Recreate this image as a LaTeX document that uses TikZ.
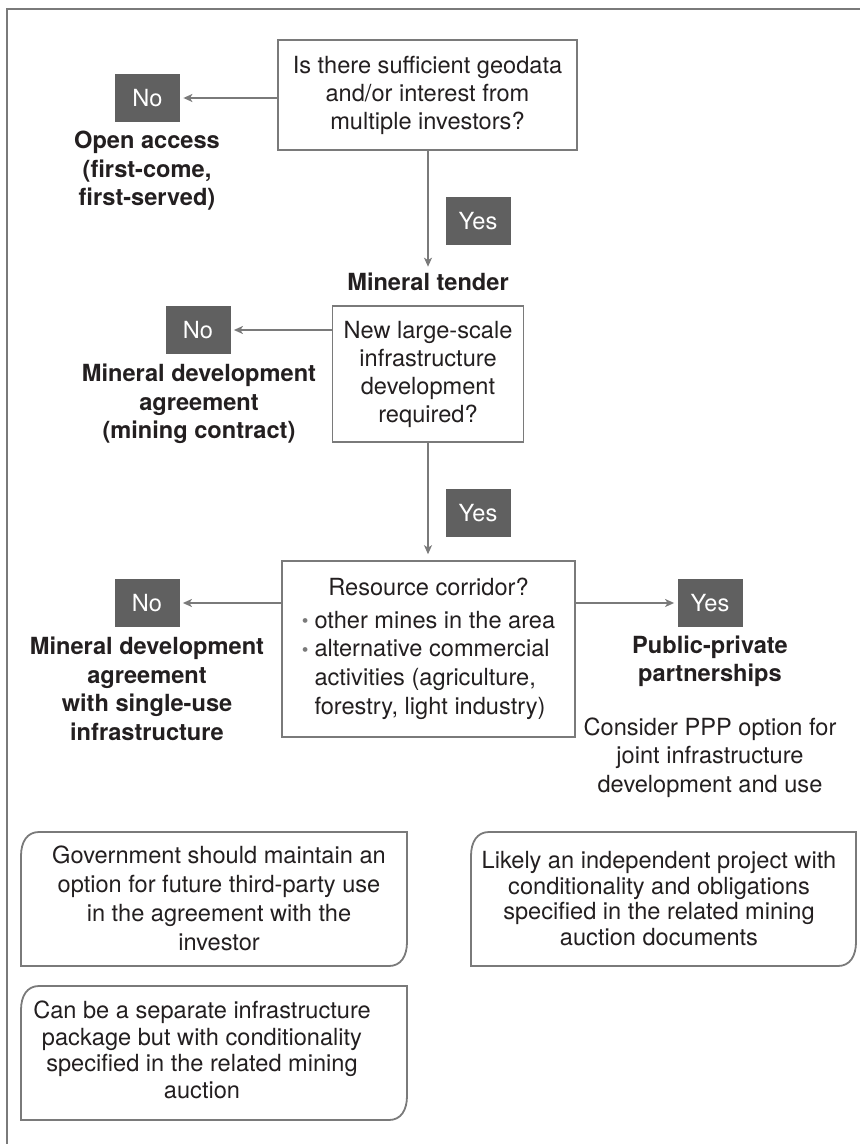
\documentclass[tikz,border=0pt]{standalone}
\usepackage{fontspec}
\setmainfont{TeX Gyre Heros}
\usetikzlibrary{arrows.meta, calc}

\definecolor{linegray}{HTML}{7A7A7A}
\definecolor{tagfill}{HTML}{606060}
\definecolor{inkblack}{HTML}{231F20}

% rounded note frame: top left (#1,#2), bottom right (#3,#4), pixel units
\newcommand{\notebox}[4]{%
  \draw[noteline] (#1,#4) -- (#1,#2+24) .. controls (#1,#2+10) and (#1+6,#2) .. (#1+18,#2) -- (#3,#2)
    -- (#3,#4-24) .. controls (#3,#4-10) and (#3-6,#4) .. (#3-18,#4) -- cycle;}
\newcommand{\dotitem}{{\color{linegray}\fontsize{9.5pt}{9.5pt}\selectfont\raisebox{0.3pt}{\textbullet}}}

\begin{document}
\begin{tikzpicture}[x=0.5pt, y=-0.5pt, inner sep=0pt, text=inkblack,
    font=\fontsize{11.8pt}{14pt}\selectfont,
    qbox/.style={draw=linegray, line width=0.8pt, align=center},
    tag/.style={fill=tagfill, text=white, minimum width=32.5pt, minimum height=24pt},
    outcome/.style={font=\fontsize{11.8pt}{14.25pt}\selectfont\bfseries, align=center},
    arr/.style={draw=linegray, line width=0.75pt, -{Stealth[length=4.5pt, width=4pt, inset=1.2pt]}},
    noteline/.style={draw=linegray, line width=0.9pt}]
  \useasboundingbox (0,0) rectangle (860,1144);
  \draw[linegray, line width=0.8pt] (7,1144) -- (7,9) -- (860,9);

  % first question
  \node[qbox, minimum width=149.5pt, minimum height=55pt] (geo) at (427.5,95)
    {Is there sufficient geodata\\and/or interest from\\multiple investors?};
  \node[tag] (no1) at (147.5,98) {No};
  \node[outcome] (open) at (147,171) {Open access\\(first-come,\\first-served)};
  \node[outcome] (tender) at (428,282) {Mineral tender};
  \node[tag] (yes1) at (478,221) {Yes};
  \draw[arr, shorten >=1.5pt] (geo.west |- no1) -- (no1.east);
  \draw[arr, shorten >=3pt] (geo.south -| tender) -- (tender.north);

  % second question
  \node[qbox, minimum width=95.5pt, minimum height=68pt] (infra) at (428,374)
    {New large-scale\\infrastructure\\development\\required?};
  \node[tag] (no2) at (198,330) {No};
  \node[outcome] (mda) at (199,404) {Mineral development\\agreement\\(mining contract)};
  \node[tag] (yes2) at (478,513) {Yes};
  \draw[arr, shorten >=1.5pt] (infra.west |- no2) -- (no2.east);

  % third question
  \node[qbox, minimum width=146.5pt, minimum height=88pt,
    font=\fontsize{11.8pt}{14.3pt}\selectfont] (corr) at (428.5,649)
    {\begin{tabular}{@{}l@{\hspace{3pt}}l@{}}
      \multicolumn{2}{c}{Resource corridor?}\\[2.2pt]
      \dotitem & other mines in the area\\
      \dotitem & alternative commercial\\
               & activities (agriculture,\\
               & forestry, light industry)
    \end{tabular}};
  \draw[arr, shorten >=3pt] (infra.south) -- (infra.south |- corr.north);
  \node[tag] (no3) at (147,603) {No};
  \node[outcome] (mdb) at (147,689) {Mineral development\\agreement\\with single-use\\infrastructure};
  \node[tag] (yes3) at (710,603) {Yes};
  \node[outcome] (ppp) at (710,661.5) {Public-private\\partnerships};
  \node[align=center, font=\fontsize{11.8pt}{14.25pt}\selectfont] (ppptext) at (710,757.5)
    {Consider PPP option for\\joint infrastructure\\development and use};
  \draw[arr, shorten >=1.5pt] (corr.west |- no3) -- (no3.east);
  \draw[arr, shorten >=1.5pt] (corr.east |- yes3) -- (yes3.west);

  % notes
  \notebox{21}{832}{407}{966}
  \node[align=center, font=\fontsize{11.8pt}{14.5pt}\selectfont] (govt) at (219,898.5)
    {Government should maintain an\\option for future third-party use\\in the agreement with the\\investor};
  \notebox{21}{986}{407}{1120}
  \node[align=center, font=\fontsize{11.8pt}{13.3pt}\selectfont] (pkg) at (202,1050)
    {Can be a separate infrastructure\\package but with conditionality\\specified in the related mining\\auction};
  \notebox{471}{832}{856}{966}
  \node[align=center, font=\fontsize{11.8pt}{12.9pt}\selectfont] (indep) at (659,898.5)
    {Likely an independent project with\\conditionality and obligations\\specified in the related mining\\auction documents};
\end{tikzpicture}
\end{document}
